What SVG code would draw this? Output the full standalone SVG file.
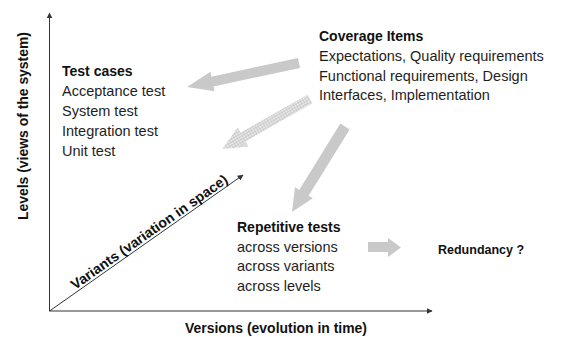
<svg xmlns="http://www.w3.org/2000/svg" width="562" height="337" viewBox="0 0 562 337">
<style>
.t{font-family:"Liberation Sans",Arial,sans-serif;font-size:14.5px;fill:#1e1e1e}
.b{font-family:"Liberation Sans",Arial,sans-serif;font-size:14px;font-weight:bold;fill:#111}
.ax{font-family:"Liberation Sans",Arial,sans-serif;font-size:14px;font-weight:bold;fill:#111}
.axis{stroke:#333;stroke-width:1;fill:none}
.ga{fill:#c9c9c9}
</style>
<defs>
<marker id="ah" viewBox="0 0 10 10" refX="9" refY="5" markerWidth="6" markerHeight="6" markerUnits="userSpaceOnUse" orient="auto">
<path d="M0,0 L10,5 L0,10 z" fill="#333"/>
</marker>
<pattern id="hatch" patternUnits="userSpaceOnUse" width="2" height="2">
<rect width="2" height="2" fill="#f2f2f2"/>
<path d="M0,2 L2,0" stroke="#b4b4b4" stroke-width="0.8"/>
</pattern>
</defs>

<g id="axes">
<line class="axis" x1="49.5" y1="311" x2="49.5" y2="13" marker-end="url(#ah)"/>
<line class="axis" x1="49.5" y1="311" x2="432" y2="311" marker-end="url(#ah)"/>
<line class="axis" x1="49.5" y1="311" x2="243" y2="175" marker-end="url(#ah)"/>
<text class="ax" transform="translate(28,126) rotate(-90)" text-anchor="middle" textLength="188" lengthAdjust="spacingAndGlyphs">Levels (views of the system)</text>
<text class="ax" x="276" y="333" text-anchor="middle" textLength="182" lengthAdjust="spacingAndGlyphs">Versions (evolution in time)</text>
<text class="ax" transform="translate(49.5,311) rotate(-35.1)" x="33" y="-2.5" textLength="188" lengthAdjust="spacingAndGlyphs">Variants (variation in space)</text>
</g>

<g id="connectors">
<polygon class="ga" transform="translate(299,63) rotate(167.9)" points="0,-5 88.5,-5 88.5,-10 114.5,0 88.5,10 88.5,5 0,5"/>
<polygon fill="url(#hatch)" transform="translate(310,99) rotate(150.4)" points="0,-5 77,-5 77,-11 101,0 77,11 77,5 0,5"/>
<polygon class="ga" transform="translate(345,126.5) rotate(121.8)" points="0,-5.5 78,-5.5 78,-10.5 100.6,0 78,10.5 78,5.5 0,5.5"/>
<polygon class="ga" points="368,242 388,242 388,238 401,247.5 388,257 388,252 368,252"/>
</g>

<g id="test-cases">
<text class="b" x="62" y="76">Test cases</text>
<text class="t" x="62" y="96">Acceptance test</text>
<text class="t" x="62" y="116">System test</text>
<text class="t" x="62" y="136">Integration test</text>
<text class="t" x="62" y="156">Unit test</text>
</g>

<g id="coverage-items">
<text class="b" x="319" y="41">Coverage Items</text>
<text class="t" x="319" y="61">Expectations, Quality requirements</text>
<text class="t" x="319" y="80.5">Functional requirements, Design</text>
<text class="t" x="319" y="100">Interfaces, Implementation</text>
</g>

<g id="repetitive-tests">
<text class="b" x="237" y="232">Repetitive tests</text>
<text class="t" x="237" y="251.5">across versions</text>
<text class="t" x="237" y="271">across variants</text>
<text class="t" x="237" y="290.5">across levels</text>
</g>

<g id="redundancy">
<text class="b" x="438" y="254" style="font-size:12.5px">Redundancy ?</text>
</g>
</svg>
